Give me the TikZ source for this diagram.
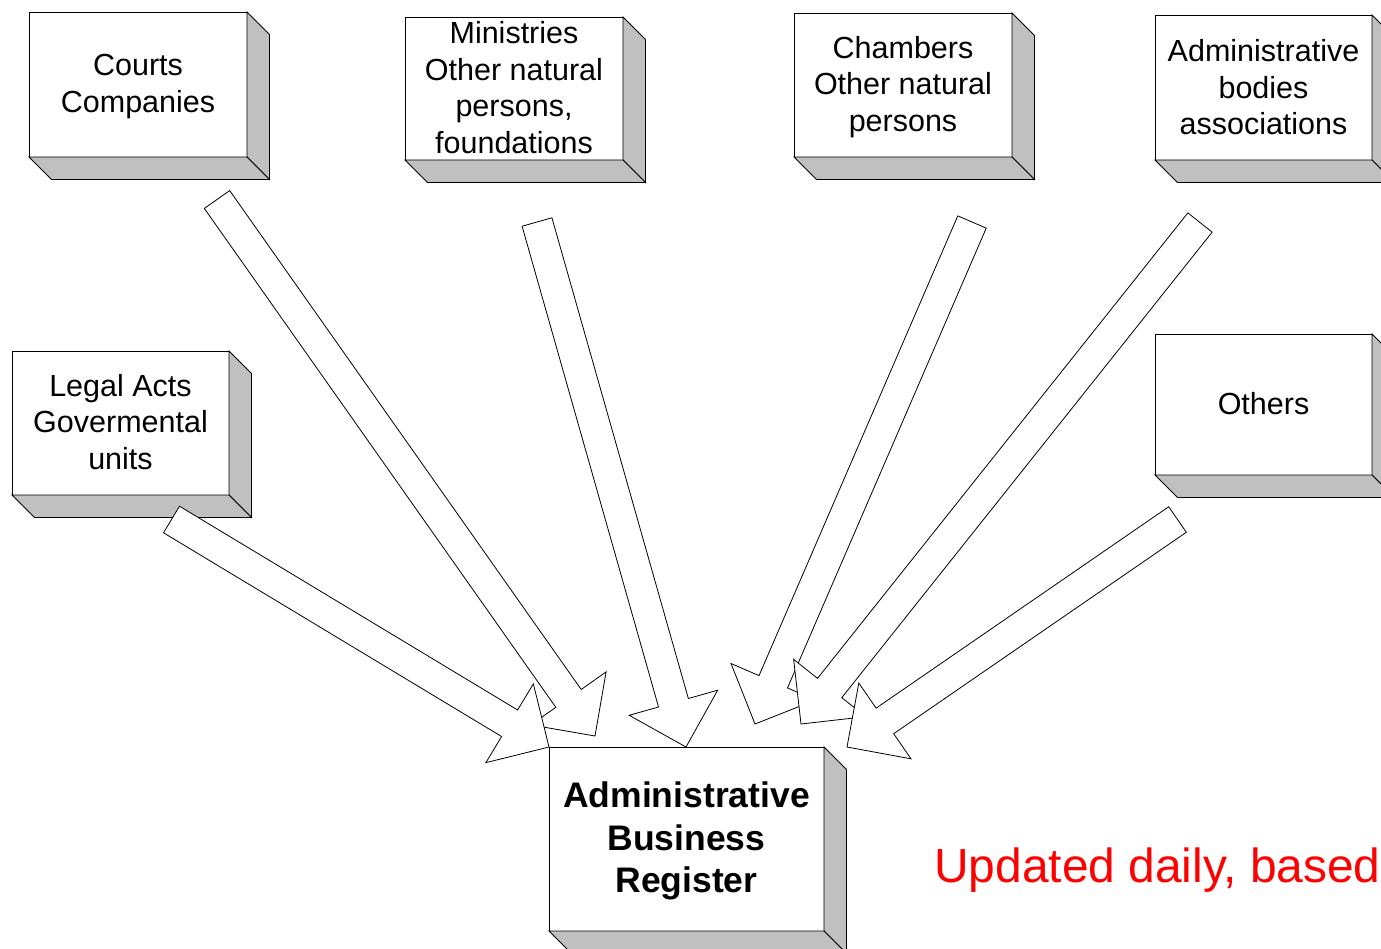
\documentclass[tikz,border=0pt]{standalone}
\usepackage{fontspec}
\setmainfont{Liberation Sans}
\usetikzlibrary{calc}
\definecolor{sidegray}{HTML}{C0C0C0}
\newcommand\tdbox[5]{%
  \node[face,minimum width=#4pt,minimum height=#5pt] (#1) at ({#2+#4/2},{#3+#5/2}) {};
  \draw[side] (#1.north east) -- ++(22.5,22.5) -- ++(0,#5) -- (#1.south east) -- cycle;
  \draw[side] (#1.south west) -- ++(22.5,22.5) -- ++(#4,0) -- (#1.south east) -- cycle;
}
\newcommand\blockarrow[2]{%
  \coordinate (#2-h) at ($(#2)!46pt!(#1)$);
  \draw[arr] ($(#1)!15.5pt!90:(#2)$) -- ($(#2-h)!15.5pt!90:(#2)$) -- ($(#2-h)!46pt!90:(#2)$)
    -- (#2) -- ($(#2-h)!46pt!-90:(#2)$) -- ($(#2-h)!15.5pt!-90:(#2)$) -- ($(#1)!15.5pt!-90:(#2)$) -- cycle;
}
\begin{document}
\begin{tikzpicture}[x=1pt,y=-1pt,
  face/.style={draw=black,line width=0.8pt,fill=white,inner sep=0pt,outer sep=0pt},
  side/.style={draw=black,line width=0.8pt,fill=sidegray,line join=miter},
  lbl/.style={align=center,inner sep=0pt,font=\fontsize{30.5}{36.6}\selectfont},
  lblb/.style={align=center,inner sep=0pt,font=\bfseries\fontsize{35.5}{42.6}\selectfont},
  arr/.style={draw=black,line width=0.8pt,fill=white,line join=miter}]
\useasboundingbox (0,0) rectangle (1381,949);
\clip (0,0) rectangle (1381,949);
\fill[white] (0,0) rectangle (1381,949);

% boxes
\tdbox{courts}{29}{12}{218}{145}
\tdbox{minis}{405}{17}{218}{143}
\tdbox{chamb}{794}{13}{218}{144}
\tdbox{admb}{1155}{15}{217}{145}
\tdbox{legal}{12}{351}{217}{144}
\tdbox{others}{1155}{334}{217}{141}
\tdbox{abr}{549}{747}{275}{184}

\node[lbl] (courts-t) at ($(courts)+(0,2)$) {Courts\\Companies};
\node[lbl] (minis-t) at ($(minis)+(0,-1)$) {Ministries\\Other natural\\persons,\\foundations};
\node[lbl] (chamb-t) at ($(chamb)+(0,2)$) {Chambers\\Other natural\\persons};
\node[lbl] (admb-t) at (admb) {Administrative\\bodies\\associations};
\node[lbl] (legal-t) at ($(legal)+(0,-1)$) {Legal Acts\\Govermental\\units};
\node[lbl] (others-t) at ($(others)+(0,-1)$) {Others};
\node[lblb] (abr-t) at ($(abr)+(0,2)$) {Administrative\\Business\\Register};

% arrow end points
\coordinate (t1) at (171.5,519.5); \coordinate (p1) at (abr.north west);
\coordinate (t2) at (217,199.5);   \coordinate (p2) at (595,736);
\coordinate (t3) at (537,222);     \coordinate (p3) at (686,747);
\coordinate (t4) at (972,222);     \coordinate (p4) at (755,724);
\coordinate (t5) at (1200,222.5);  \coordinate (p5) at (801,724);
\coordinate (t6) at (1177.5,519.5);\coordinate (p6) at (847,747);

\blockarrow{t2}{p2}
\blockarrow{t1}{p1}
\blockarrow{t3}{p3}
\blockarrow{t4}{p4}
\blockarrow{t5}{p5}
\blockarrow{t6}{p6}

\node[anchor=base west,inner sep=0pt,text=red,font=\fontsize{47.9}{57}\selectfont] (note) at (934,882) {Updated daily, based};
\end{tikzpicture}
\end{document}
